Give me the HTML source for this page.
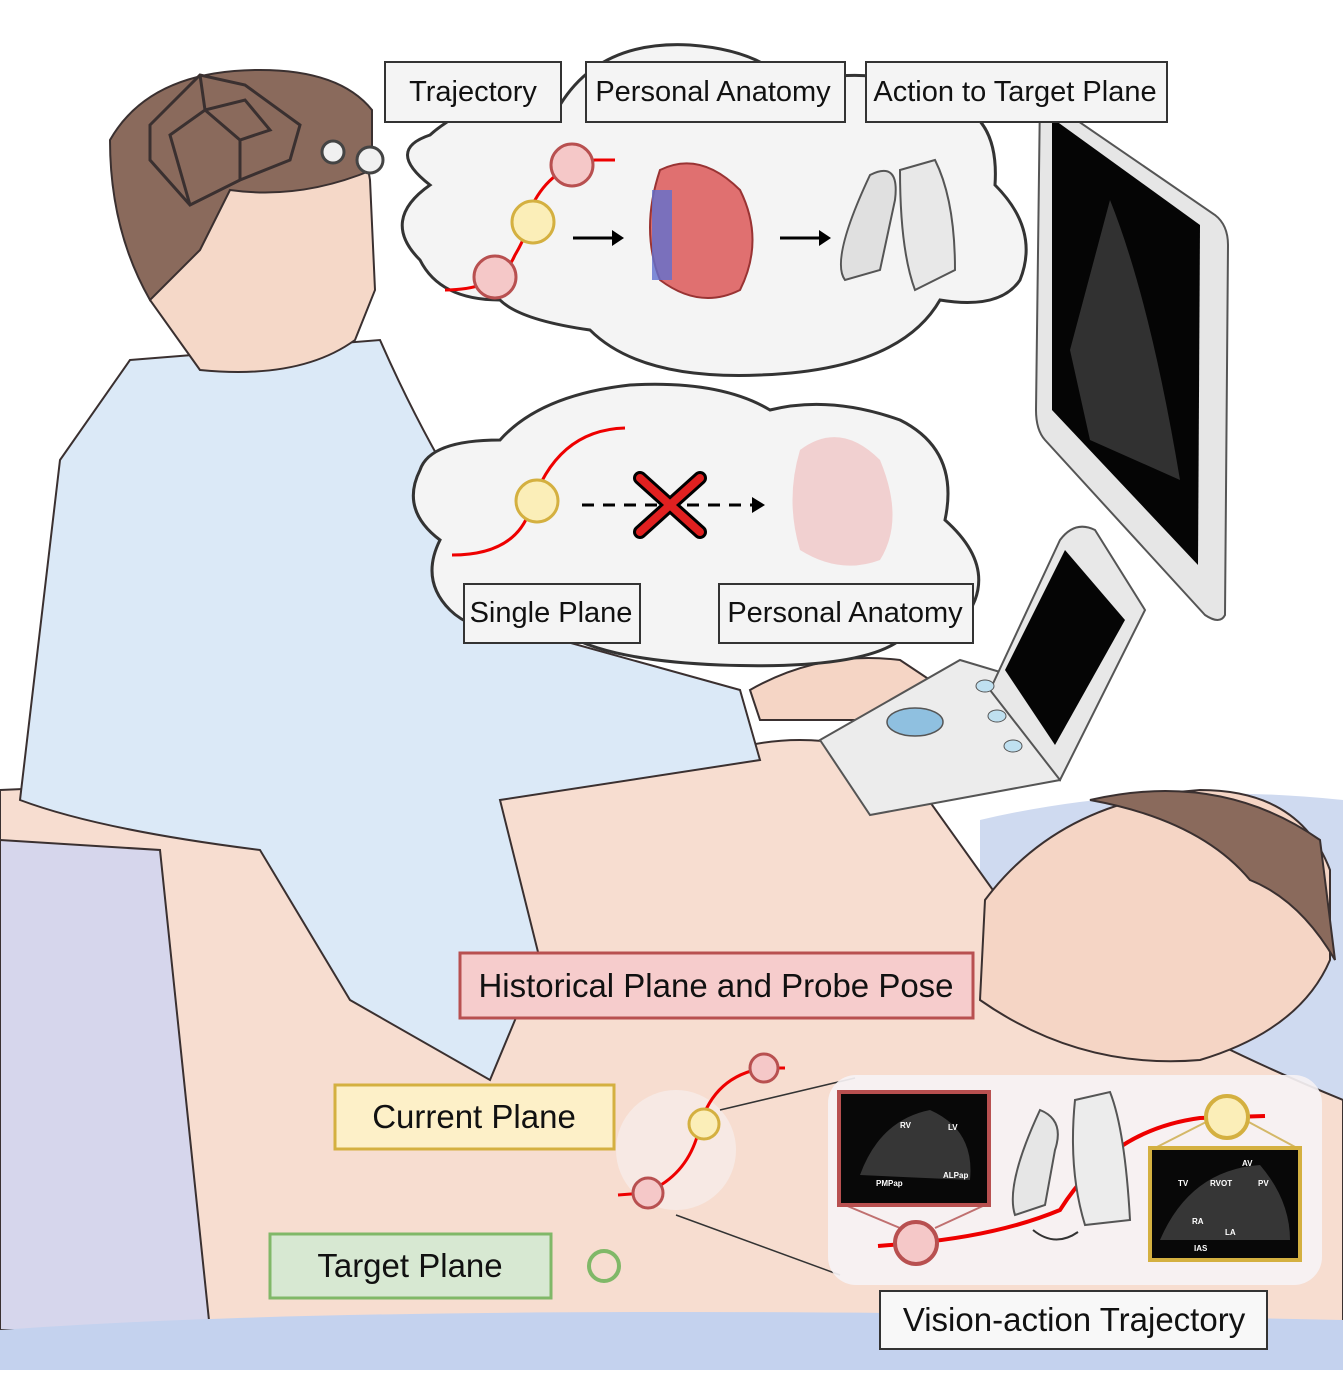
<!DOCTYPE html>
<html><head><meta charset="utf-8"><style>
body{margin:0;background:#fff}
svg{display:block}
text{font-family:"Liberation Sans",sans-serif}
</style></head><body>
<svg width="1343" height="1385" viewBox="0 0 1343 1385" xmlns="http://www.w3.org/2000/svg">
<rect width="1343" height="1385" fill="#fff"/>
<!-- pillow / bed right -->
<path d="M980 820 Q1150 780 1343 800 L1343 1330 L980 1330 Z" fill="#cfdaf0"/>
<!-- patient skin torso -->
<path d="M0 790 L700 760 Q800 720 900 760 L1000 900 Q1100 1000 1343 1100 L1343 1330 L0 1330 Z" fill="#f7ddd0" stroke="#3a3030" stroke-width="2"/>
<!-- patient head -->
<path d="M985 900 Q1060 800 1200 790 Q1300 790 1330 870 L1330 960 Q1300 1030 1200 1060 Q1080 1070 980 1000 Z" fill="#f5d5c5" stroke="#3a3030" stroke-width="2"/>
<path d="M1090 800 Q1220 770 1320 840 L1335 960 Q1300 900 1250 880 Q1200 820 1090 800Z" fill="#8a6a5c" stroke="#3a3030" stroke-width="2"/>
<!-- pants lavender left -->
<path d="M0 840 L160 850 L210 1330 L0 1330 Z" fill="#d6d6ec" stroke="#3a3030" stroke-width="2"/>
<!-- bed bottom -->
<path d="M0 1330 Q400 1300 1343 1320 L1343 1370 L0 1370 Z" fill="#c4d2ee"/>
<!-- doctor shirt -->
<path d="M130 360 L380 340 Q450 500 560 640 L740 690 L760 760 L500 800 L540 960 L490 1080 L350 1000 L260 850 Q100 830 20 800 L60 460 Z" fill="#dbe9f7" stroke="#3a3030" stroke-width="2"/>
<!-- hand on laptop -->
<path d="M750 690 Q820 650 900 660 L960 700 L930 720 L850 720 L760 720 Z" fill="#f5d5c5" stroke="#3a3030" stroke-width="2"/>
<!-- doctor head -->
<path d="M130 150 Q180 80 290 80 Q360 110 370 180 L375 290 L355 340 Q300 380 200 370 L150 300 Z" fill="#f5d8c8" stroke="#3a3030" stroke-width="2"/>
<path d="M110 140 Q150 70 260 70 Q340 70 372 110 L372 170 Q300 200 230 190 L200 250 L150 300 Q110 230 110 140Z" fill="#8a6a5c" stroke="#3a3030" stroke-width="2"/>
<g stroke="#3a3030" stroke-width="3" fill="none">
<path d="M150 125 L200 75 L245 85 L300 125 L290 160 L240 180 L190 205 L150 160 Z M200 75 L205 110 L245 100 L270 130 L240 140 L205 110 L170 135 L190 205 M240 140 L240 180"/>
</g>
<circle cx="333" cy="152" r="11" fill="#f0f0f0" stroke="#444" stroke-width="3"/>
<circle cx="370" cy="160" r="13" fill="#f0f0f0" stroke="#444" stroke-width="3"/>
<!-- monitor -->
<path d="M1040 95 L1215 215 Q1228 225 1228 245 L1225 615 Q1220 625 1205 615 L1045 440 Q1036 430 1036 410 Z" fill="#e6e6e6" stroke="#555" stroke-width="2"/>
<path d="M1052 118 L1200 225 L1198 565 L1052 410 Z" fill="#050505"/>
<path d="M1110 200 Q1150 300 1180 480 L1090 440 L1070 350 Z" fill="#444" opacity="0.7"/>
<!-- laptop -->
<path d="M820 740 L960 660 L1060 690 L1060 780 L870 815 Z" fill="#ececec" stroke="#555" stroke-width="2"/>
<path d="M990 690 L1060 540 Q1075 520 1095 530 L1145 610 L1060 780 Z" fill="#e8e8e8" stroke="#555" stroke-width="2"/>
<path d="M1005 670 L1065 550 L1125 620 L1055 745 Z" fill="#050505"/>
<ellipse cx="915" cy="722" rx="28" ry="14" fill="#8fc0e0" stroke="#555" stroke-width="1.5"/>
<ellipse cx="985" cy="686" rx="9" ry="6" fill="#bfe0f0" stroke="#555"/>
<ellipse cx="997" cy="716" rx="9" ry="6" fill="#bfe0f0" stroke="#555"/>
<ellipse cx="1013" cy="746" rx="9" ry="6" fill="#bfe0f0" stroke="#555"/>
<!-- top cloud -->
<path d="M430 135 Q480 90 560 105 Q600 40 690 45 Q760 50 790 85 Q880 60 940 100 Q1000 110 995 185 Q1040 230 1020 280 Q1000 310 940 300 Q900 370 760 375 Q640 380 590 330 Q520 320 500 300 Q440 300 420 260 Q380 220 430 185 Q385 150 430 135 Z" fill="#f4f4f4" stroke="#333" stroke-width="3"/>
<!-- bottom cloud -->
<path d="M420 470 Q430 440 500 440 Q540 395 630 385 Q720 380 770 410 Q830 395 900 420 Q960 450 945 520 Q990 560 975 600 Q960 640 900 640 Q860 670 720 665 Q600 660 560 630 Q480 640 450 610 Q420 580 440 540 Q400 510 420 470 Z" fill="#f4f4f4" stroke="#333" stroke-width="3"/>
<!-- cloud 1 content -->
<path d="M445 290 Q500 290 515 255 Q530 230 535 200 Q555 165 595 160 L615 160" fill="none" stroke="#e00" stroke-width="3"/>
<circle cx="572" cy="165" r="21" fill="#f5c8c8" stroke="#b85050" stroke-width="3"/>
<circle cx="533" cy="222" r="21" fill="#fbeeb8" stroke="#d4b040" stroke-width="3"/>
<circle cx="495" cy="277" r="21" fill="#f5c8c8" stroke="#b85050" stroke-width="3"/>
<path d="M573 238 L618 238" stroke="#000" stroke-width="3"/><path d="M612 230 L624 238 L612 246Z" fill="#000"/>
<path d="M780 238 L825 238" stroke="#000" stroke-width="3"/><path d="M819 230 L831 238 L819 246Z" fill="#000"/>
<path d="M660 170 Q700 150 740 190 Q765 240 740 290 Q700 310 660 280 Q640 230 660 170Z" fill="#e07070" stroke="#933" stroke-width="2"/>
<rect x="652" y="190" width="20" height="90" fill="#6070d0" opacity="0.8"/>
<path d="M870 175 Q900 160 895 200 L880 270 L845 280 Q830 260 870 175Z" fill="#e0e0e0" stroke="#555" stroke-width="2"/>
<path d="M900 170 L935 160 Q955 200 955 270 L915 290 Q900 250 900 170Z" fill="#e8e8e8" stroke="#555" stroke-width="2"/>
<!-- cloud 2 content -->
<path d="M452 555 Q515 555 530 510 Q555 430 625 428" fill="none" stroke="#e00" stroke-width="3"/>
<circle cx="537" cy="501" r="21" fill="#fbeeb8" stroke="#d4b040" stroke-width="3"/>
<path d="M582 505 L755 505" stroke="#000" stroke-width="3" stroke-dasharray="12,9"/><path d="M752 497 L765 505 L752 513Z" fill="#000"/>
<path d="M640 478 L700 532 M700 478 L640 532" stroke="#000" stroke-width="14" stroke-linecap="round"/>
<path d="M640 478 L700 532 M700 478 L640 532" stroke="#e02020" stroke-width="8" stroke-linecap="round"/>
<path d="M800 450 Q840 420 880 460 Q905 520 880 560 Q840 575 800 550 Q785 500 800 450Z" fill="#f0c0c0" opacity="0.7"/>
<!-- labels -->
<g font-size="29" fill="#111">
<rect x="385" y="62" width="176" height="60" fill="#f4f4f4" stroke="#333" stroke-width="2"/>
<text x="473" y="101" text-anchor="middle">Trajectory</text>
<rect x="586" y="62" width="259" height="60" fill="#f4f4f4" stroke="#333" stroke-width="2"/>
<text x="713" y="101" text-anchor="middle">Personal Anatomy</text>
<rect x="866" y="62" width="301" height="60" fill="#f4f4f4" stroke="#333" stroke-width="2"/>
<text x="1015" y="101" text-anchor="middle">Action to Target Plane</text>
<rect x="464" y="584" width="176" height="59" fill="#f4f4f4" stroke="#333" stroke-width="2"/>
<text x="551" y="622" text-anchor="middle">Single Plane</text>
<rect x="719" y="584" width="254" height="59" fill="#f4f4f4" stroke="#333" stroke-width="2"/>
<text x="845" y="622" text-anchor="middle">Personal Anatomy</text>
</g>
<g font-size="33" fill="#111">
<rect x="460" y="953" width="513" height="65" fill="#f6cccc" stroke="#b85050" stroke-width="3"/>
<text x="716" y="997" text-anchor="middle">Historical Plane and Probe Pose</text>
<rect x="335" y="1085" width="279" height="64" fill="#fdf0c8" stroke="#d4b040" stroke-width="3"/>
<text x="474" y="1128" text-anchor="middle">Current Plane</text>
<rect x="270" y="1234" width="281" height="64" fill="#d7e8d2" stroke="#80b868" stroke-width="3"/>
<text x="410" y="1277" text-anchor="middle">Target Plane</text>
<rect x="880" y="1291" width="387" height="58" fill="#f8f8f8" stroke="#333" stroke-width="2"/>
<text x="1074" y="1331" text-anchor="middle">Vision-action Trajectory</text>
</g>
<!-- current plane probe area -->
<circle cx="676" cy="1150" r="60" fill="#f6ece8" opacity="0.8"/>
<path d="M618 1195 L645 1193 Q690 1175 700 1125 Q715 1075 765 1068 L785 1068" fill="none" stroke="#e00" stroke-width="3"/>
<circle cx="764" cy="1068" r="14" fill="#f5c8c8" stroke="#b85050" stroke-width="3"/>
<circle cx="704" cy="1124" r="15" fill="#fbeeb8" stroke="#d4b040" stroke-width="3"/>
<circle cx="648" cy="1193" r="15" fill="#f5c8c8" stroke="#b85050" stroke-width="3"/>
<circle cx="604" cy="1266" r="15" fill="none" stroke="#80b868" stroke-width="4"/>
<line x1="720" y1="1110" x2="855" y2="1078" stroke="#333" stroke-width="1.5"/>
<line x1="676" y1="1215" x2="840" y2="1275" stroke="#333" stroke-width="1.5"/>
<!-- inset -->
<rect x="828" y="1075" width="494" height="210" rx="28" fill="#f6f2f4" opacity="0.92"/>
<path d="M878 1246 L915 1243 Q1000 1235 1060 1210 Q1110 1130 1200 1118 L1265 1116" fill="none" stroke="#e00" stroke-width="4"/>
<line x1="845" y1="1205" x2="900" y2="1228" stroke="#c07070" stroke-width="2"/>
<line x1="985" y1="1205" x2="935" y2="1228" stroke="#c07070" stroke-width="2"/>
<line x1="1155" y1="1148" x2="1210" y2="1120" stroke="#d4b868" stroke-width="2"/>
<line x1="1297" y1="1148" x2="1245" y2="1120" stroke="#d4b868" stroke-width="2"/>
<rect x="839" y="1092" width="150" height="113" fill="#080808" stroke="#b85050" stroke-width="4"/>
<path d="M860 1175 Q880 1120 930 1110 Q975 1130 970 1180 Z" fill="#555" opacity="0.6"/>
<g font-size="8" fill="#fff" font-weight="bold"><text x="900" y="1128">RV</text><text x="948" y="1130">LV</text><text x="876" y="1186">PMPap</text><text x="943" y="1178">ALPap</text></g>
<circle cx="916" cy="1243" r="21" fill="#f5c8c8" stroke="#b85050" stroke-width="4"/>
<rect x="1150" y="1148" width="150" height="112" fill="#080808" stroke="#d4b040" stroke-width="4"/>
<path d="M1160 1240 Q1190 1170 1260 1165 Q1290 1200 1290 1240 Z" fill="#555" opacity="0.6"/>
<g font-size="8" fill="#fff" font-weight="bold"><text x="1242" y="1166">AV</text><text x="1178" y="1186">TV</text><text x="1210" y="1186">RVOT</text><text x="1258" y="1186">PV</text><text x="1192" y="1224">RA</text><text x="1225" y="1235">LA</text><text x="1194" y="1251">IAS</text></g>
<circle cx="1227" cy="1117" r="21" fill="#fbeeb8" stroke="#d4b040" stroke-width="4"/>
<path d="M1040 1110 Q1065 1120 1055 1150 L1045 1205 L1015 1215 Q1005 1185 1040 1110Z" fill="#e6e6e6" stroke="#555" stroke-width="2"/>
<path d="M1075 1100 L1110 1092 Q1125 1130 1130 1220 L1085 1225 Q1068 1170 1075 1100Z" fill="#ececec" stroke="#555" stroke-width="2"/>
<path d="M1033 1230 Q1055 1248 1078 1232" fill="none" stroke="#333" stroke-width="2"/>
</svg>
</body></html>
